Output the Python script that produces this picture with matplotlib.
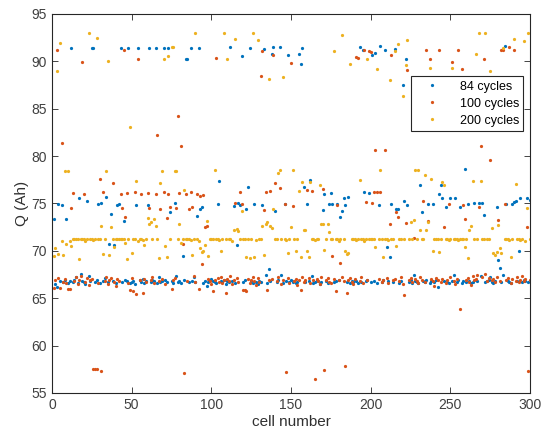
import numpy as np
from matplotlib import pyplot as plt

# discharge capacity per cell
q84 = [
    73.4, 66.5, 66.2, 74.9, 66.8, 74.8, 66.7, 66.9, 73.4, 66.6,
    66.8, 91.4, 66.7, 66.9, 67.2, 66.6, 75.6, 67.6, 66.8, 66.7,
    66.5, 75.3, 67.3, 66.8, 91.4, 91.4, 66.7, 66.9, 74.9, 66.6,
    75.0, 66.8, 67.1, 75.7, 66.7, 70.7, 73.9, 66.8, 70.6, 66.6,
    74.8, 74.9, 91.4, 66.7, 73.2, 66.9, 66.8, 91.4, 66.6, 66.7,
    66.8, 66.5, 74.8, 91.4, 66.9, 66.7, 67.0, 66.6, 66.8, 74.8,
    91.4, 66.7, 66.9, 66.8, 91.4, 66.6, 67.2, 66.7, 66.8, 91.4,
    66.9, 66.7, 91.4, 74.1, 66.8, 66.6, 75.0, 67.4, 66.7, 66.8,
    66.6, 69.5, 66.9, 90.2, 90.2, 66.7, 91.4, 66.8, 67.2, 66.7,
    73.7, 91.4, 74.4, 74.6, 66.6, 66.8, 66.3, 66.7, 66.9, 67.0,
    66.8, 66.7, 66.6, 74.9, 77.4, 66.8, 66.7, 66.9, 66.5, 66.8,
    66.7, 91.5, 66.8, 74.7, 66.6, 70.6, 75.0, 74.8, 90.6, 66.7,
    66.9, 74.4, 76.7, 91.4, 66.8, 66.6, 74.9, 66.7, 66.5, 66.8,
    66.7, 74.8, 91.3, 67.5, 66.6, 68.1, 66.8, 90.8, 91.5, 74.2,
    66.7, 66.9, 91.5, 67.5, 66.6, 74.9, 66.8, 90.7, 66.7, 66.9,
    66.7, 66.8, 66.6, 66.7, 90.8, 89.7, 91.4, 76.7, 66.7, 74.9,
    66.8, 77.5, 67.3, 66.6, 66.7, 66.9, 66.8, 66.5, 66.7, 74.3,
    76.0, 66.8, 66.6, 74.9, 76.1, 74.9, 66.7, 66.8, 74.9, 66.9,
    73.6, 74.2, 75.6, 74.8, 66.7, 75.7, 66.6, 66.8, 66.7, 66.9,
    66.8, 66.6, 91.5, 66.7, 91.2, 76.2, 66.8, 66.9, 76.1, 66.7,
    90.7, 66.8, 90.9, 66.6, 74.8, 91.6, 66.7, 66.9, 91.2, 70.4,
    66.8, 69.3, 74.9, 66.7, 91.3, 74.4, 74.4, 66.6, 66.8, 87.5,
    75.3, 90.2, 74.8, 66.7, 66.9, 66.6, 67.5, 66.8, 66.7, 66.6,
    77.0, 74.1, 66.8, 66.7, 66.9, 74.9, 66.6, 66.8, 74.9, 66.7,
    66.9, 66.2, 76.0, 77.0, 75.6, 66.8, 74.6, 66.7, 66.6, 75.6,
    66.8, 67.5, 75.6, 66.7, 66.9, 74.6, 66.6, 66.8, 78.6, 66.7,
    74.9, 66.8, 66.6, 66.7, 75.1, 66.9, 66.8, 75.1, 67.3, 75.0,
    73.8, 66.7, 66.8, 66.9, 67.2, 66.7, 66.6, 66.8, 74.6, 69.0,
    68.2, 66.7, 67.5, 91.6, 74.9, 66.8, 66.7, 66.6, 74.9, 75.2,
    75.3, 66.8, 70.0, 75.6, 66.7, 66.9, 66.8, 75.6, 66.7, 75.4,
]

q100 = [
    66.1, 66.9, 91.2, 67.1, 66.1, 81.4, 66.7, 67.0, 66.6, 66.0,
    66.0, 74.5, 76.1, 66.8, 67.2, 66.5, 66.9, 67.3, 89.9, 76.0,
    66.7, 67.1, 66.4, 66.9, 67.0, 57.5, 57.5, 57.5, 66.6, 77.6,
    57.3, 76.2, 66.8, 67.2, 66.5, 66.9, 67.1, 77.2, 66.7, 66.3,
    67.0, 66.8, 76.0, 74.5, 91.2, 73.6, 76.1, 66.6, 65.9, 67.1,
    65.8, 76.2, 65.5, 90.2, 66.9, 76.0, 65.6, 67.0, 66.7, 76.1,
    74.5, 66.9, 67.2, 66.6, 76.0, 82.2, 66.8, 74.4, 67.0, 76.2,
    66.5, 73.5, 76.0, 74.6, 66.0, 66.9, 67.1, 74.5, 84.2, 76.1,
    81.1, 70.7, 57.1, 76.0, 66.8, 74.4, 76.2, 74.6, 67.3, 66.7,
    76.0, 66.0, 75.8, 68.6, 75.9, 72.5, 72.6, 67.0, 66.8, 66.5,
    65.8, 66.9, 90.4, 67.1, 66.7, 67.2, 66.6, 66.9, 65.6, 67.0,
    66.8, 67.3, 66.5, 66.9, 75.0, 67.1, 66.7, 76.2, 74.9, 65.9,
    65.9, 65.8, 67.0, 66.6, 66.9, 67.2, 66.8, 66.4, 67.1, 66.7,
    88.5, 91.1, 74.3, 76.2, 65.9, 66.9, 76.3, 67.0, 90.7, 77.2,
    66.8, 67.2, 76.6, 66.5, 66.9, 74.9, 57.2, 67.1, 66.6, 89.8,
    74.7, 66.8, 67.0, 66.4, 66.9, 65.9, 67.2, 66.7, 66.9, 76.4,
    67.1, 66.6, 76.3, 66.9, 56.5, 67.0, 66.8, 66.5, 67.2, 76.5,
    57.4, 66.9, 67.1, 66.7, 66.6, 69.5, 67.0, 65.8, 74.8, 66.9,
    68.7, 67.2, 66.8, 57.8, 65.6, 66.9, 67.1, 66.7, 66.5, 67.0,
    90.5, 90.4, 66.8, 67.2, 66.6, 91.2, 75.2, 66.9, 91.1, 91.0,
    75.0, 76.2, 80.6, 76.2, 67.0, 76.2, 66.7, 66.9, 80.6, 67.1,
    66.6, 72.8, 90.7, 66.9, 67.0, 74.1, 73.6, 66.8, 67.2, 66.5,
    65.3, 72.9, 89.1, 66.9, 67.1, 66.7, 71.4, 67.0, 66.8, 66.6,
    67.2, 66.9, 75.3, 66.7, 91.2, 73.1, 90.3, 67.0, 66.8, 66.3,
    67.1, 66.9, 91.2, 66.7, 67.0, 72.5, 66.6, 66.9, 74.9, 67.2,
    89.9, 66.8, 66.5, 67.0, 91.2, 63.9, 89.2, 74.8, 73.4, 66.9,
    67.1, 66.7, 66.4, 67.3, 66.9, 67.0, 67.5, 74.6, 81.1, 67.2,
    90.3, 67.6, 66.8, 67.1, 79.6, 66.9, 67.0, 66.7, 67.2, 73.3,
    66.8, 91.2, 91.2, 74.9, 66.9, 67.1, 91.5, 66.6, 67.0, 91.2,
    66.8, 67.2, 66.7, 66.9, 67.3, 66.8, 67.0, 72.5, 57.3, 66.9,
]

q200 = [
    69.5, 70.3, 89.0, 69.7, 91.9, 71.0, 69.6, 78.4, 70.7, 78.4,
    71.0, 70.5, 71.3, 71.3, 71.2, 71.3, 69.1, 71.2, 71.3, 71.2,
    71.0, 71.3, 93.0, 71.2, 71.3, 71.1, 71.2, 92.5, 71.3, 71.2,
    72.6, 69.7, 71.2, 78.4, 90.0, 69.6, 72.5, 71.3, 70.4, 71.2,
    71.3, 71.2, 71.3, 71.2, 71.3, 70.8, 69.1, 71.2, 83.1, 69.8,
    71.3, 71.2, 77.4, 71.0, 71.3, 71.2, 71.1, 70.6, 71.2, 73.5,
    72.8, 73.0, 71.3, 73.4, 72.6, 71.2, 69.2, 77.2, 78.4, 90.2,
    70.5, 69.3, 90.6, 71.3, 91.5, 91.5, 78.4, 78.4, 71.2, 72.8,
    70.8, 71.3, 76.4, 71.2, 71.3, 71.2, 71.1, 69.6, 71.3, 93.0,
    71.2, 71.0, 70.3, 69.9, 70.0, 70.6, 73.1, 69.5, 71.3, 71.2,
    71.2, 78.5, 71.3, 71.2, 71.1, 70.0, 71.3, 93.0, 71.2, 90.2,
    71.3, 71.2, 71.0, 72.2, 92.4, 72.3, 72.1, 71.2, 74.2, 71.3,
    71.2, 69.3, 71.3, 69.2, 71.2, 93.0, 69.3, 71.1, 92.3, 71.2,
    71.3, 72.6, 69.6, 72.8, 73.0, 88.1, 72.6, 72.4, 74.4, 71.2,
    71.3, 78.2, 78.5, 71.2, 88.3, 71.3, 71.1, 69.8, 71.2, 72.5,
    78.5, 71.3, 70.0, 71.2, 76.3, 69.4, 77.3, 72.2, 72.2, 70.0,
    69.4, 77.3, 71.3, 71.2, 71.1, 71.3, 71.2, 77.0, 72.8, 72.8,
    70.1, 71.3, 72.8, 72.0, 71.2, 71.3, 91.1, 71.2, 71.3, 71.0,
    71.2, 92.8, 71.3, 70.0, 69.7, 69.8, 89.7, 71.2, 71.3, 71.2,
    71.1, 71.3, 77.5, 71.2, 71.3, 71.0, 71.2, 90.2, 71.3, 71.2,
    71.3, 71.2, 70.4, 89.2, 71.3, 78.5, 71.2, 69.3, 71.3, 71.2,
    71.1, 88.0, 71.3, 71.2, 91.1, 70.5, 91.8, 71.3, 71.2, 86.3,
    71.3, 89.6, 92.3, 71.2, 73.0, 71.3, 73.3, 78.5, 71.2, 78.5,
    72.2, 71.3, 71.2, 78.0, 72.2, 73.0, 89.3, 77.6, 70.0, 71.2,
    71.3, 71.2, 69.9, 71.3, 77.3, 77.0, 71.2, 71.3, 71.1, 71.2,
    89.3, 71.3, 71.2, 71.3, 71.1, 71.2, 71.3, 71.2, 70.4, 71.3,
    69.2, 72.2, 72.6, 77.4, 71.2, 90.8, 71.3, 93.0, 77.4, 71.2,
    71.3, 93.0, 71.2, 71.3, 89.0, 72.4, 69.8, 69.6, 69.9, 72.7,
    70.3, 69.8, 91.4, 71.3, 71.2, 71.3, 71.1, 69.3, 71.2, 92.4,
    77.1, 71.2, 71.3, 71.1, 71.2, 92.2, 71.0, 74.5, 93.0, 71.3,
]

series_labels = ['84 cycles', '100 cycles', '200 cycles']
colors = ['#0072BD', '#D95319', '#EDB120']

cells = np.arange(1, len(q84) + 1)

plt.rcParams['font.family'] = ['Liberation Sans', 'DejaVu Sans']
fig = plt.figure(figsize=(5.44, 4.37), dpi=100)
ax = fig.add_axes([0.0956, 0.1007, 0.8787, 0.8673])

for q, lab, c in zip([q84, q100, q200], series_labels, colors):
    ax.plot(cells, q, '.', color=c, markersize=2.6, label=lab)

ax.set_xlim(0, 300)
ax.set_ylim(55, 95)
ax.set_xticks(range(0, 301, 50))
ax.set_yticks(range(55, 96, 5))
ax.tick_params(direction='in', top=True, right=True, length=4, width=0.6,
               labelsize=10, colors='#262626', labelcolor='#404040')
for s in ax.spines.values():
    s.set_linewidth(0.8)
    s.set_color('#262626')
ax.set_xlabel('cell number', fontsize=11, color='#303030', labelpad=2)
ax.set_ylabel('Q (Ah)', fontsize=11, color='#303030', labelpad=2)

leg = ax.legend(loc='upper right', bbox_to_anchor=(0.999, 0.852), fontsize=9,
                fancybox=False, edgecolor='#262626', framealpha=1,
                markerscale=1.0, handlelength=2.6, borderpad=0.35,
                labelspacing=0.4, handletextpad=0.9)
leg.get_frame().set_linewidth(0.8)

fig.savefig('out.png', dpi=100)
